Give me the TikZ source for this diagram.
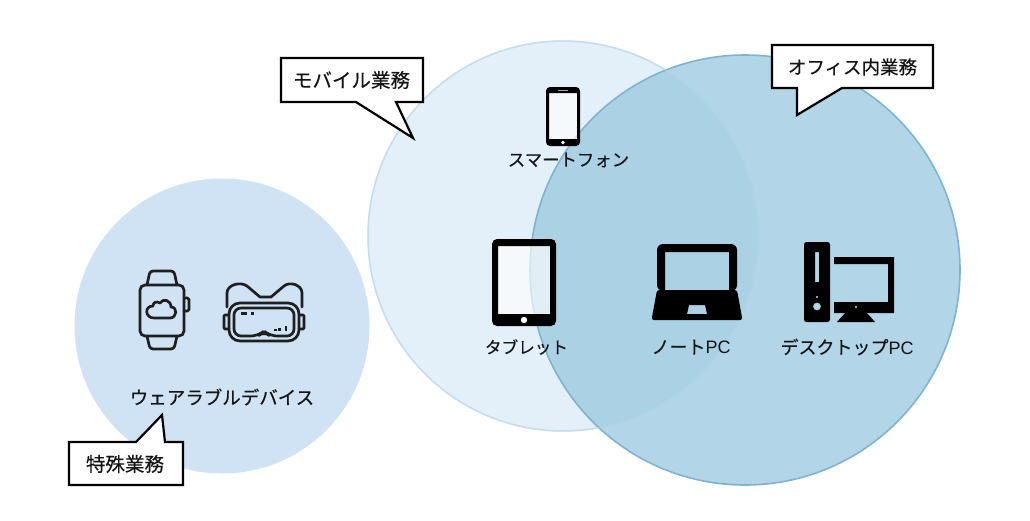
\documentclass[tikz,border=0pt]{standalone}
\usepackage{fontspec}
\setmainfont{Noto Sans CJK JP}[FakeBold=0.25]
\newfontfamily\latinpc{Liberation Sans}
\tikzset{
  x=1pt,y=-1pt,
  lbl/.style={inner sep=0pt,text=black!92,font=\fontsize{#1}{#1}\selectfont},
  callout/.style={draw=black,line width=2.2pt,fill=white,line join=miter},
  wire/.style={draw=black!88,line width=2.7pt,line join=round,line cap=round,fill=none},
}
\definecolor{wearfill}{HTML}{CFE3F4}
\definecolor{mobfill}{HTML}{E3EFF9}
\definecolor{mobline}{HTML}{C6DDEE}
\definecolor{offfill}{HTML}{99C7DF}
\definecolor{offline}{HTML}{7DB4CF}
\begin{document}
\begin{tikzpicture}
\useasboundingbox (0,0) rectangle (1030,520);
\fill[white] (0,0) rectangle (1030,520);
% circles
\fill[wearfill] (222,326) circle[radius=147.5];
\filldraw[fill=mobfill,draw=mobline,line width=1.5pt] (563,236) circle[radius=195];
\filldraw[fill=offfill,fill opacity=.75,draw=offline,line width=1.6pt] (745,270) circle[radius=215];
\draw[mobline,opacity=.5,line width=1.2pt] (563,236) circle[radius=195];
% smartphone
\fill[white,opacity=.65] (549,93) rectangle (577,139);
\fill[black,even odd rule] [rounded corners=4pt] (546,87) rectangle (580,146) [sharp corners] (549,93) rectangle (577,139);
\fill[white] (563,142.5) circle[radius=1.9];
\draw[white!65!black,line width=1pt] (558,90) -- (568,90);
% tablet
\fill[white,opacity=.65] (498,246) rectangle (550,314);
\fill[black,even odd rule] [rounded corners=5pt] (492,239) rectangle (556,326) [sharp corners] (498,246) rectangle (550,314);
\fill[white] (524,320) circle[radius=3.2];
% laptop
\fill[black,even odd rule] [rounded corners=6pt] (657,244) -- (737,244) -- (737,291) -- (657,291) -- cycle [sharp corners] (665,252) rectangle (729,290);
\fill[black,even odd rule] [rounded corners=2.5pt] (657,290) -- (737,290) -- (742.5,320) -- (651.5,320) -- cycle [sharp corners] (689,305) -- (705,305) -- (707,314) -- (687,314) -- cycle;
% desktop
\fill[black,even odd rule] [rounded corners=2.5pt] (804,242) rectangle (830,322) [sharp corners] (815,252) rectangle (819,282) (817,297) circle[radius=1.4] (817,306.5) circle[radius=4];
\fill[black,even odd rule] (834,257) -- (894,257) -- (894,313) -- (834,313) -- (834,302) -- (888,302) -- (888,264) -- (834,264) -- cycle (856,307) circle[radius=1.3];
\fill[black] (845,313) -- (867,313) -- (875,322) -- (837,322) -- cycle;
% watch
\draw[wire,rounded corners=5pt] (140,285) rectangle (184,336);
\draw[wire,rounded corners=3pt] (147,285) -- (150,271) -- (174,271) -- (177,285);
\draw[wire,rounded corners=3pt] (147,336) -- (150,349) -- (174,349) -- (177,336);
\draw[wire,rounded corners=1.5pt] (184,298) -- (189,298) -- (189,311) -- (184,311);
\draw[wire] (154,318) .. controls (145,318) and (144,306) .. (153,306)
  .. controls (153,302) and (157,301) .. (160,303)
  .. controls (163,298) and (171,300) .. (171,307)
  .. controls (178,307) and (177,318) .. (170,318) -- cycle;
% VR
\draw[wire] (227,307) -- (227,293) .. controls (227,285) and (240,281) .. (247,286)
  -- (260,297) -- (271,297) -- (284,286) .. controls (290,281) and (302,285) .. (302,293) -- (302,307);
\draw[wire,fill=wearfill,rounded corners=11pt] (229,303) rectangle (299,341);
\draw[wire,rounded corners=7pt] (234,308) -- (294,308) -- (294,336) -- (270,336) -- (264,331) -- (258,336) -- (234,336) -- cycle;
\draw[wire,rounded corners=1pt] (229,315) -- (224,315) -- (224,329) -- (229,329);
\draw[wire,rounded corners=1pt] (299,315) -- (304,315) -- (304,329) -- (299,329);
\draw[wire,line cap=butt] (241,313.5) -- (247,313.5) (251,313.5) -- (253.5,313.5);
\draw[wire,line cap=butt] (274,330) -- (276.5,330) (279.5,331) -- (279.5,328) (286,331) -- (286,325.5);
% callouts
\draw[callout] (281,58) -- (423,58) -- (423,102) -- (396,102) -- (413,138) -- (356,102) -- (281,102) -- cycle;
\draw[callout] (772,45) -- (933,45) -- (933,88) -- (842,88) -- (797,115) -- (797,88) -- (772,88) -- cycle;
\draw[callout] (69,442) -- (136,442) -- (162,415) -- (165,442) -- (183,442) -- (183,485) -- (69,485) -- cycle;
% labels
\node[lbl=19.5] (mob) at (351.5,80) {モバイル業務};
\node[lbl=18.5] (off) at (852.5,67) {オフィス内業務};
\node[lbl=19.5] (spe) at (125,464) {特殊業務};
\node[lbl=17.4] (sma) at (568.5,160) {スマートフォン};
\node[lbl=16.6] (tab) at (526.5,347) {タブレット};
\node[lbl=18] (not) at (691,347) {ノート{\latinpc PC}};
\node[lbl=18] (des) at (847,347) {デスクトップ{\latinpc PC}};
\node[lbl=18.5] (wea) at (222,397) {ウェアラブルデバイス};
\end{tikzpicture}
\end{document}
